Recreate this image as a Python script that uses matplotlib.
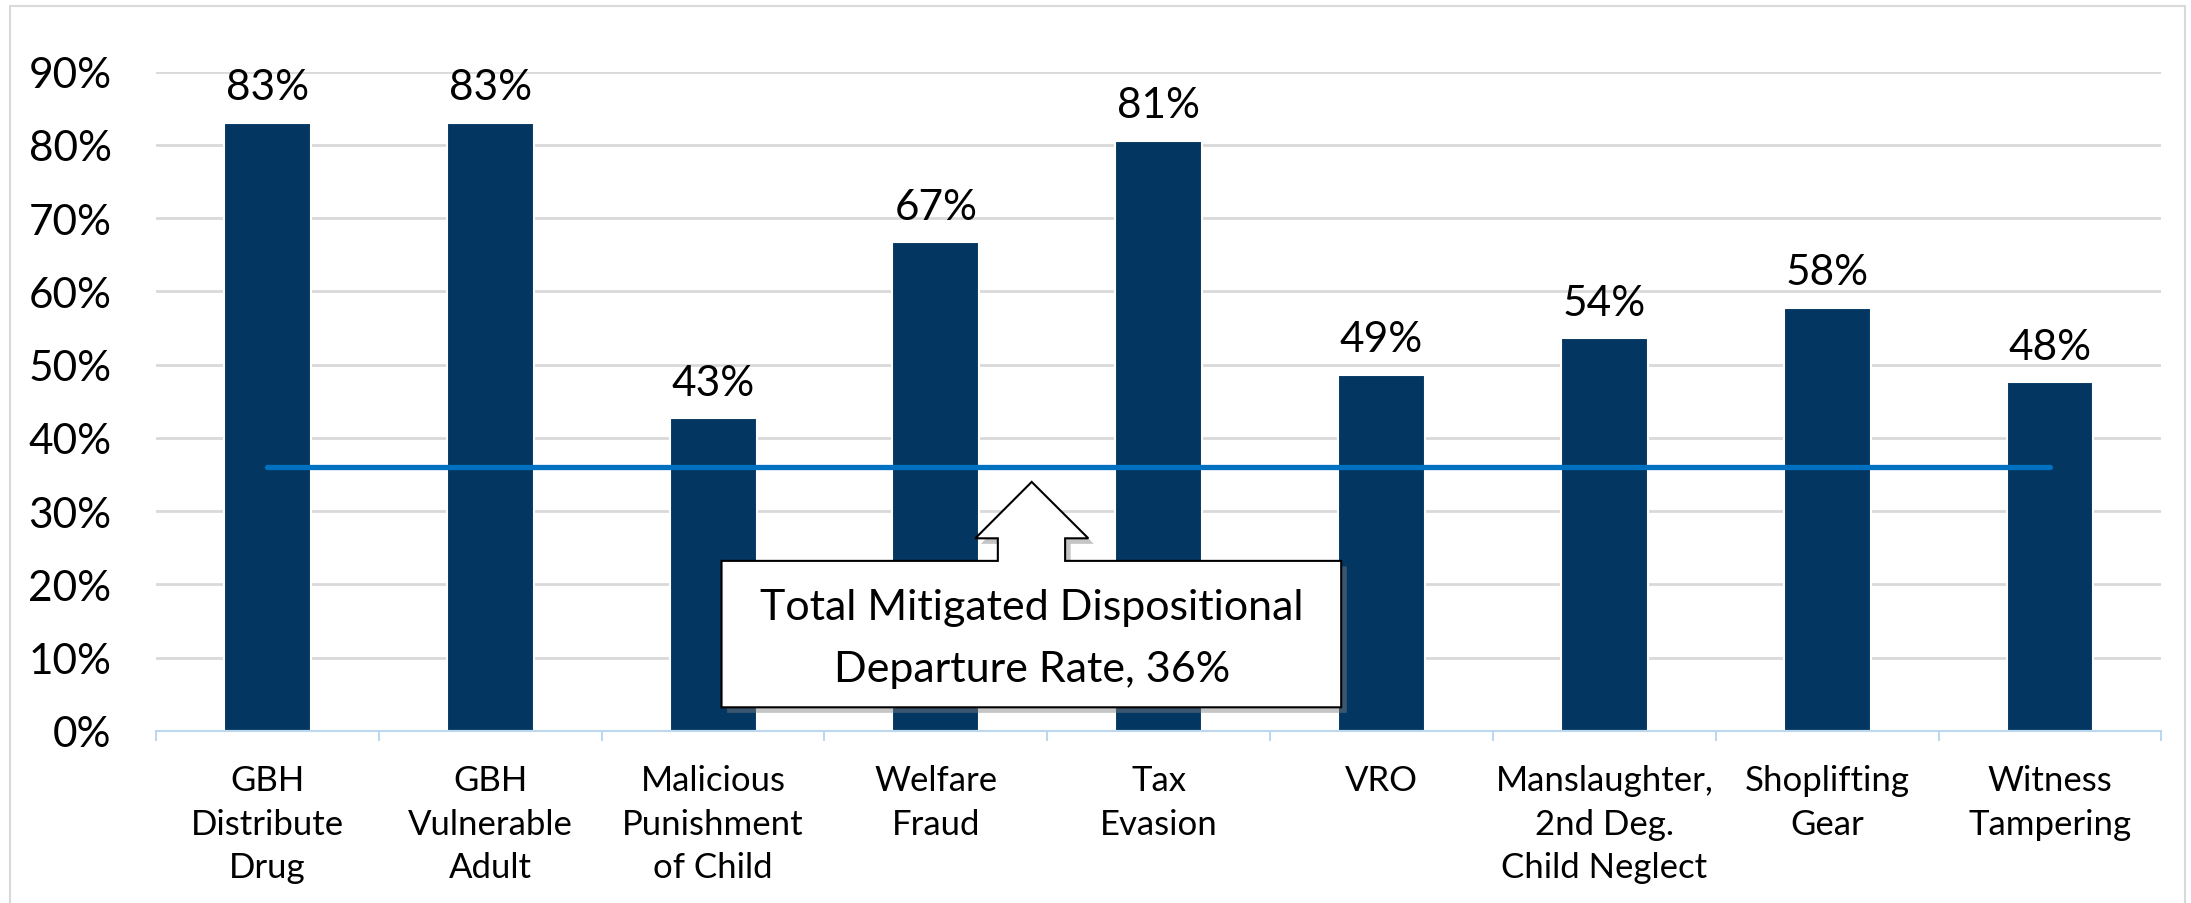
import matplotlib.pyplot as plt
from matplotlib.patches import Polygon, Rectangle
import matplotlib.patheffects as pe
import numpy as np

plt.rcParams['font.family'] = ['Lato', 'DejaVu Sans']

categories = ['GBH\nDistribute\nDrug', 'GBH\nVulnerable\nAdult', 'Malicious\nPunishment\nof Child',
              'Welfare\nFraud', 'Tax\nEvasion', 'VRO', 'Manslaughter,\n2nd Deg.\nChild Neglect',
              'Shoplifting\nGear', 'Witness\nTampering']
rates = [0.83, 0.83, 0.427, 0.667, 0.806, 0.486, 0.536, 0.578, 0.476]
total_rate = 0.36
total_label = 'Total Mitigated Dispositional\nDeparture Rate, 36%'

bar_color = '#033762'
line_color = '#0070C0'
grid_color = '#D9D9D9'
axis_color = '#BDD7EE'

fig = plt.figure(figsize=(21.91, 9.04), dpi=100)
ax = fig.add_axes([0.0712, 0.1903, 0.9153, 0.7293])

x = np.arange(len(categories))
bars = ax.bar(x, rates, width=0.39, color=bar_color, edgecolor='white', linewidth=1.5, zorder=2)

for xi, v in zip(x, rates):
    ax.annotate('{:.0%}'.format(v), (xi, v), xytext=(0, 12), textcoords='offset points',
                ha='center', va='bottom', fontsize=30.5, color='black')

# overall rate line, from first to last category
ax.plot(x[[0, -1]], [total_rate, total_rate], color=line_color, lw=3.8,
        solid_capstyle='round', zorder=3)

ax.set_xlim(-0.5, len(categories) - 0.5)
ax.set_ylim(0, 0.9)
ax.set_yticks(np.arange(0, 0.91, 0.1))
ax.set_yticklabels(['{:.0%}'.format(t) for t in np.arange(0, 0.91, 0.1)], fontsize=30.5)
ax.tick_params(axis='y', length=0, pad=32)
ax.yaxis.grid(True, color=grid_color, lw=2, zorder=0)
ax.set_axisbelow(True)

ax.set_xticks(x)
ax.set_xticklabels(categories, fontsize=25, linespacing=1.44)
ax.set_xticks(np.arange(-0.5, len(categories)), minor=True)
ax.tick_params(axis='x', which='major', length=0, pad=24)
ax.tick_params(axis='x', which='minor', length=7.5, width=1.5, color=axis_color)

for s in ['top', 'right', 'left']:
    ax.spines[s].set_visible(False)
ax.spines['bottom'].set_color(axis_color)
ax.spines['bottom'].set_linewidth(1.5)

# callout box with up arrow
callout = [(2.038, 0.2322), (3.278, 0.2322), (3.278, 0.263), (3.177, 0.263), (3.43, 0.340),
           (3.684, 0.263), (3.580, 0.263), (3.580, 0.2322), (4.819, 0.2322),
           (4.819, 0.0323), (2.038, 0.0323)]
poly = Polygon(callout, closed=True, facecolor='white', edgecolor='black', lw=1.5,
               transform=ax.transData, zorder=5, clip_on=False)
poly.set_path_effects([pe.SimplePatchShadow(offset=(4, -4), shadow_rgbFace='#808080', alpha=0.45),
                       pe.Normal()])
ax.add_patch(poly)
ax.text(3.43, 0.127, total_label, ha='center', va='center', fontsize=31,
        linespacing=1.78, zorder=6)

fig.add_artist(Rectangle((10 / 2191, -0.02), 2175 / 2191, (904 - 7) / 904 + 0.02,
                         transform=fig.transFigure, fill=False, edgecolor=grid_color, lw=1.5))

fig.savefig('out.png', dpi=100)
